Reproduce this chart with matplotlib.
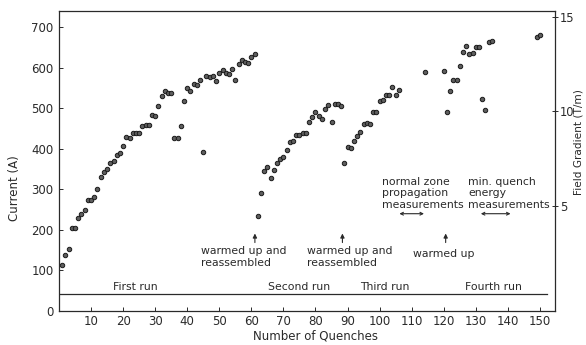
import matplotlib
matplotlib.use("Agg")
import matplotlib.pyplot as plt

# ---- data ----
run1_n = list(range(1, 62))
run1_I = [113, 138, 152, 204, 205, 230, 240, 250, 273, 275, 281, 300, 331, 342, 351,
          366, 369, 384, 389, 407, 429, 427, 438, 440, 438, 456, 458, 460, 483, 481,
          505, 531, 543, 538, 538, 426, 427, 456, 518, 549, 543, 560, 557, 569, 393,
          579, 578, 579, 567, 586, 594, 588, 585, 597, 570, 610, 619, 615, 612, 626, 633]

run2_n = list(range(62, 89))
run2_I = [235, 290, 345, 354, 327, 347, 366, 375, 380, 397, 416, 419, 434, 434, 438,
          438, 467, 479, 490, 481, 473, 498, 508, 467, 510, 510, 506]

run3_n = [89, 90, 91, 92, 93, 94, 95, 96, 97, 98, 99, 100, 101, 102, 103, 104, 105, 106, 114, 120]
run3_I = [365, 405, 403, 420, 431, 442, 461, 464, 462, 490, 492, 519, 520, 532, 533,
          552, 533, 544, 590, 593]

run4_n = [121, 122, 123, 124, 125, 126, 127, 128, 129, 130, 131, 132, 133, 134, 135, 149, 150]
run4_I = [490, 542, 571, 569, 605, 640, 653, 633, 636, 652, 650, 524, 496, 664, 666, 676, 681]

x_ticks = [10, 20, 30, 40, 50, 60, 70, 80, 90, 100, 110, 120, 130, 140, 150]
y_ticks = [0, 100, 200, 300, 400, 500, 600, 700]
grad_ticks = [5, 10, 15]

run_labels = ["First run", "Second run", "Third run", "Fourth run"]
run_label_x = [23.7, 74.9, 101.7, 135.4]
warm_arrow_x = [61.1, 88.4, 120.6]

# ---- figure ----
plt.rcParams['font.family'] = ['DejaVu Sans']
fig = plt.figure(figsize=(5.86, 3.45), dpi=100)
ax = fig.add_axes([59/586, 1 - 311/345, 496/586, 300/345])

ink = '#2a2a2a'
for n, I in [(run1_n, run1_I), (run2_n, run2_I), (run3_n, run3_I), (run4_n, run4_I)]:
    ax.plot(n, I, linestyle='none', marker='o', ms=3.2, mfc='#5e5e5e', mec='#1a1a1a', mew=0.7)

ax.set_xlim(0, 154.7)
ax.set_ylim(0, 740)
ax.set_xticks(x_ticks)
ax.set_yticks(y_ticks)
ax.tick_params(axis='both', direction='in', length=3, width=0.7, colors=ink, labelsize=8.5)
ax.tick_params(axis='x', pad=3)
ax.tick_params(axis='y', pad=4)
for s in ax.spines.values():
    s.set_color(ink)
    s.set_linewidth(0.9)

ax.set_xlabel("Number of Quenches", fontsize=8.5, color=ink)
ax.xaxis.set_label_coords(0.518, -0.063)
ax.set_ylabel("Current (A)", fontsize=8.5, color=ink)
ax.yaxis.set_label_coords(-0.076, 0.41)

# right-hand gradient axis
ax2 = ax.twinx()
ax2.set_ylim(-0.58, 15.32)
ax2.set_yticks(grad_ticks)
ax2.tick_params(axis='y', direction='inout', length=5, width=0.7, colors=ink, labelsize=8.3, pad=1)
for s in ax2.spines.values():
    s.set_visible(False)
ax2.set_ylabel("Field Gradient (T/m)", fontsize=7.6, color=ink)
ax2.yaxis.set_label_coords(1.038, 0.563)

# run line
ax.plot([0, 152.2], [43, 43], color=ink, lw=0.9)
for lab, xx in zip(run_labels, run_label_x):
    ax.text(xx, 47, lab, ha='center', va='bottom', fontsize=7.8, color=ink)

# warm-up arrows
for xx in warm_arrow_x:
    ax.annotate("", xy=(xx, 198), xytext=(xx, 162),
                arrowprops=dict(arrowstyle='-|>', color=ink, lw=0.8, mutation_scale=6))

ax.text(44.3, 105, "warmed up and\nreassembled", ha='left', va='bottom', fontsize=7.8,
        color=ink, linespacing=1.35)
ax.text(77.3, 105, "warmed up and\nreassembled", ha='left', va='bottom', fontsize=7.8,
        color=ink, linespacing=1.35)
ax.text(110.5, 128, "warmed up", ha='left', va='bottom', fontsize=7.8, color=ink)

ax.text(100.6, 250, "normal zone\npropagation\nmeasurements", ha='left', va='bottom',
        fontsize=7.8, color=ink, linespacing=1.15)
ax.text(127.7, 250, "min. quench\nenergy\nmeasurements", ha='left', va='bottom',
        fontsize=7.8, color=ink, linespacing=1.15)

for x0, x1 in [(105.3, 114.7), (130.7, 141.7)]:
    ax.annotate("", xy=(x1, 240), xytext=(x0, 240),
                arrowprops=dict(arrowstyle='<->', color=ink, lw=0.8, mutation_scale=5))

fig.savefig("out.png", dpi=100, facecolor='white')
